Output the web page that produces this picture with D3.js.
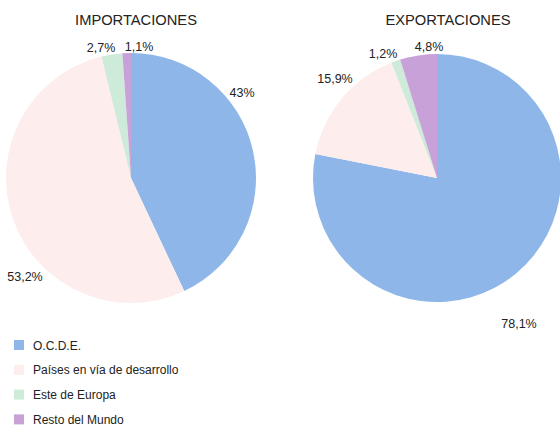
<!DOCTYPE html>
<html><head><meta charset="utf-8">
<script src="https://cdn.jsdelivr.net/npm/d3@7"></script>
<style>body{margin:0;background:#fff;}svg{display:block;font-family:"Liberation Sans",Arial,sans-serif;}</style>
</head><body>
<svg id="c" width="560" height="427"></svg>
<script>
const categories = ["O.C.D.E.", "Países en vía de desarrollo", "Este de Europa", "Resto del Mundo"];
const colors = ["#8fb6e8", "#fdeeed", "#cdebd8", "#c9a1d9"];
const importValues = [43, 53.2, 2.7, 1.1];
const exportValues = [78.1, 15.9, 1.2, 4.8];
const importLabels = ["43%", "53,2%", "2,7%", "1,1%"];
const exportLabels = ["78,1%", "15,9%", "1,2%", "4,8%"];
const titles = ["IMPORTACIONES", "EXPORTACIONES"];

const svg = d3.select("#c");
const pie = d3.pie().sort(null).value(d => d);
const color = d3.scaleOrdinal().domain(categories).range(colors);

function drawPie(cx, cy, r, values, labels, title, titleX, labelPos) {
  const g = svg.append("g").attr("transform", `translate(${cx},${cy})`);
  const arc = d3.arc().innerRadius(0).outerRadius(r);
  const arcs = pie(values);
  g.selectAll("path").data(arcs).enter().append("path")
    .attr("d", arc).attr("fill", (d, i) => color(categories[i]));
  svg.append("text").attr("x", titleX).attr("y", 25).attr("text-anchor", "middle")
    .attr("font-size", 14.7).attr("fill", "#222").text(title);
  arcs.forEach((a, i) => {
    const p = labelPos[i];
    svg.append("text").attr("x", p[0]).attr("y", p[1]).attr("text-anchor", "middle")
      .attr("font-size", 12.5).attr("fill", "#222").text(labels[i]);
  });
}

drawPie(131, 178, 125, importValues, importLabels, titles[0], 136,
  [[242, 97], [25, 281], [101, 52], [139, 51]]);
drawPie(437, 178, 124, exportValues, exportLabels, titles[1], 448,
  [[519, 328], [335, 83], [383, 58], [429, 51]]);

const legend = svg.append("g");
categories.forEach((c, i) => {
  const y = 345 + i * 24.8;
  legend.append("rect").attr("x", 14).attr("y", y - 5).attr("width", 10).attr("height", 10)
    .attr("fill", colors[i]);
  legend.append("text").attr("x", 33).attr("y", y + 4.5).attr("font-size", 12)
    .attr("fill", "#222").text(c);
});
</script>
</body></html>
